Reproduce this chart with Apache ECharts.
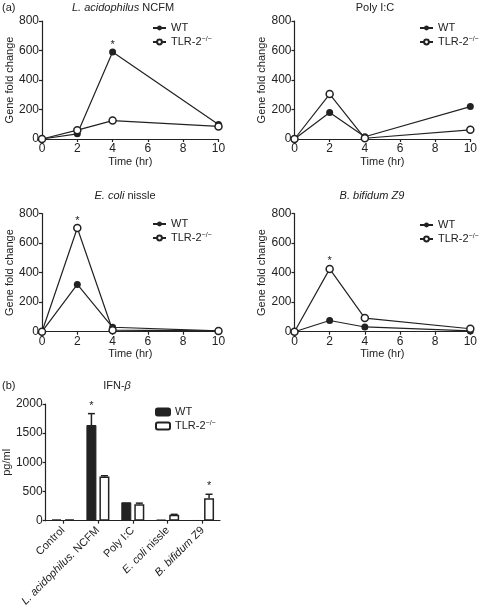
<!DOCTYPE html>
<html>
<head>
<meta charset="utf-8">
<style>html,body{margin:0;padding:0;background:#fff}#c{width:480px;height:609px}</style>
<script src="https://cdn.jsdelivr.net/npm/echarts@6/dist/echarts.min.js"></script>
</head>
<body>
<div id="c"></div>
<script>
// ---- data ----
const timePoints = [0, 2, 4, 10];
const xTicks = [0, 2, 4, 6, 8, 10];
const lineYTicks = [0, 200, 400, 600, 800];

const p1WT  = [0, 35, 590, 98];
const p1TLR = [0, 60, 125, 85];
const p2WT  = [0, 180, 15, 220];
const p2TLR = [0, 305, 5, 62];
const p3WT  = [0, 320, 30, 5];
const p3TLR = [0, 702, 10, 5];
const p4WT  = [0, 76, 32, 5];
const p4TLR = [0, 425, 92, 20];

// significance flags per time point
const p1WTStar  = [0, 0, 1, 0];
const p3TLRStar = [0, 1, 0, 0];
const p4TLRStar = [0, 1, 0, 0];

const panelTitles = ['L. acidophilus NCFM', 'Poly I:C', 'E. coli nissle', 'B. bifidum Z9'];

const barCategories = ['Control', 'L. acidophilus. NCFM', 'Poly I:C', 'E. coli nissle', 'B. bifidum Z9'];
const barWT     = [20, 1640, 315, 15, 5];
const barWTErr  = [20, 1835, 315, 15, 5];
const barTLR    = [20, 755, 283, 100, 385];
const barTLRErr = [20, 770, 300, 108, 452];
const barWTStar  = [0, 1, 0, 0, 0];
const barTLRStar = [0, 0, 0, 0, 1];
const barYTicks = [0, 500, 1000, 1500, 2000];

// ---- styling ----
const FF = 'Liberation Sans, Arial, Helvetica, sans-serif';
const INK = '#222';
const FS = 11;
const TFS = 12;
const richBase = {
  i: {fontStyle: 'italic', fontSize: FS, fontFamily: FF, color: INK},
  n: {fontSize: FS, fontFamily: FF, color: INK},
  s: {fontSize: 7, fontFamily: FF, color: INK, verticalAlign: 'top', lineHeight: 8}
};

const grids = [
  {left: 42, right: 261.5, top: 21, bottom: 470},
  {left: 294.5, right: 8.5, top: 21, bottom: 470},
  {left: 42, right: 261.5, top: 213.5, bottom: 277.3},
  {left: 294.5, right: 8.5, top: 213.5, bottom: 277.3},
  {left: 42, right: 260, top: 404, bottom: 87}
];

const axisLine = {show: true, lineStyle: {color: INK, width: 1.2}};
const axisTick = {show: true, length: 3, lineStyle: {color: INK, width: 1.2}};
const plainNum = v => String(v);

const xAxes = [], yAxes = [];
for (let k = 0; k < 4; k++) {
  xAxes.push({
    type: 'value', gridIndex: k, min: xTicks[0], max: xTicks[xTicks.length - 1], interval: 2,
    axisLine, axisTick, splitLine: {show: false},
    axisLabel: {fontSize: TFS, fontFamily: FF, color: INK, margin: 4, formatter: plainNum},
    name: 'Time (hr)', nameLocation: 'middle', nameGap: 17,
    nameTextStyle: {fontSize: FS, fontFamily: FF, color: INK}
  });
  yAxes.push({
    type: 'value', gridIndex: k, min: lineYTicks[0], max: lineYTicks[lineYTicks.length - 1], interval: 200,
    axisLine, axisTick, splitLine: {show: false},
    axisLabel: {fontSize: TFS, fontFamily: FF, color: INK, margin: 3, formatter: plainNum},
    name: 'Gene fold change', nameLocation: 'middle', nameGap: 27,
    nameTextStyle: {fontSize: FS, fontFamily: FF, color: INK}
  });
}

function catFmt(v) {
  const ital = ['L. acidophilus.', 'E. coli', 'B. bifidum'];
  for (const p of ital) {
    if (v.startsWith(p)) return '{i|' + p + '}{n|' + v.slice(p.length) + '}';
  }
  return '{n|' + v + '}';
}

xAxes.push({
  type: 'category', gridIndex: 4, data: barCategories,
  axisLine, axisTick: {show: true, length: 3, alignWithLabel: true, lineStyle: {color: INK, width: 1.2}},
  axisLabel: {rotate: 45, interval: 0, margin: 8, formatter: catFmt, rich: richBase, fontSize: FS, fontFamily: FF, color: INK}
});
yAxes.push({
  type: 'value', gridIndex: 4, min: barYTicks[0], max: barYTicks[barYTicks.length - 1], interval: 500,
  axisLine, axisTick, splitLine: {show: false},
  axisLabel: {fontSize: TFS, fontFamily: FF, color: INK, margin: 3, formatter: plainNum},
  name: 'pg/ml', nameLocation: 'middle', nameGap: 30,
  nameTextStyle: {fontSize: FS, fontFamily: FF, color: INK}
});

const panels = [
  {wt: p1WT, tlr: p1TLR, wtStar: p1WTStar, tlrStar: null},
  {wt: p2WT, tlr: p2TLR, wtStar: null, tlrStar: null},
  {wt: p3WT, tlr: p3TLR, wtStar: null, tlrStar: p3TLRStar},
  {wt: p4WT, tlr: p4TLR, wtStar: null, tlrStar: p4TLRStar}
];

function starMarks(vals, flags) {
  if (!flags) return undefined;
  const d = [];
  flags.forEach((f, i) => { if (f) d.push({coord: [timePoints[i], vals[i]]}); });
  return {
    symbol: 'circle', symbolSize: 0, silent: true,
    label: {show: true, formatter: '*', position: 'top', distance: 2, fontSize: FS, fontFamily: FF, color: INK},
    data: d
  };
}

const series = [];
panels.forEach((p, k) => {
  series.push({
    name: 'WT|' + k, type: 'line', xAxisIndex: k, yAxisIndex: k,
    data: timePoints.map((t, i) => [t, p.wt[i]]),
    symbol: 'circle', symbolSize: 7,
    itemStyle: {color: INK},
    lineStyle: {color: INK, width: 1.2},
    markPoint: starMarks(p.wt, p.wtStar), z: 3
  });
  series.push({
    name: 'TLR|' + k, type: 'line', xAxisIndex: k, yAxisIndex: k,
    data: timePoints.map((t, i) => [t, p.tlr[i]]),
    symbol: 'circle', symbolSize: 7,
    itemStyle: {color: '#fff', borderColor: INK, borderWidth: 1.5},
    lineStyle: {color: INK, width: 1.2},
    markPoint: starMarks(p.tlr, p.tlrStar), z: 4
  });
});

series.push({
  name: 'WT|bar', type: 'bar', xAxisIndex: 4, yAxisIndex: 4, data: barWT,
  barWidth: 10, barGap: '30%',
  itemStyle: {color: INK, borderColor: INK, borderWidth: 1}
});
series.push({
  name: 'TLR|bar', type: 'bar', xAxisIndex: 4, yAxisIndex: 4, data: barTLR,
  barWidth: 10,
  itemStyle: {color: '#fff', borderColor: INK, borderWidth: 1.5}
});
series.push({
  type: 'custom', xAxisIndex: 4, yAxisIndex: 4, z: 5, silent: true,
  data: barCategories.map((c, i) => [i, barWT[i], barWTErr[i], barTLR[i], barTLRErr[i], barWTStar[i], barTLRStar[i]]),
  encode: {x: 0, y: [1, 2, 3, 4]},
  renderItem: function (params, api) {
    const i = api.value(0);
    const off = 6.5;
    const children = [];
    [[1, 2, -off, 5], [3, 4, off, 6]].forEach(([vi, ei, dx, si]) => {
      const v = api.value(vi), e = api.value(ei);
      const p0 = api.coord([i, v]);
      const p1 = api.coord([i, e]);
      const x = p0[0] + dx;
      if (e > v) {
        children.push({type: 'line', shape: {x1: x, y1: p0[1], x2: x, y2: p1[1]}, style: {stroke: INK, lineWidth: 1.5}});
        children.push({type: 'line', shape: {x1: x - 3.5, y1: p1[1], x2: x + 3.5, y2: p1[1]}, style: {stroke: INK, lineWidth: 1.5}});
      }
      if (api.value(si)) {
        children.push({type: 'text', x: x, y: p1[1] - 8, style: {text: '*', fontSize: FS, fontFamily: FF, fill: INK, align: 'center', verticalAlign: 'middle'}});
      }
    });
    return {type: 'group', children};
  }
});

function legendFmt(name) {
  return name.startsWith('WT') ? '{n|WT}' : '{n|TLR-2}{s|\u2212/\u2212}';
}
function mkLegend(k, left, top, w, h) {
  return {
    orient: 'vertical', left, top, padding: 0, itemGap: 2,
    itemWidth: w, itemHeight: h, selectedMode: false,
    data: ['WT|' + k, 'TLR|' + k],
    formatter: legendFmt,
    textStyle: {fontSize: FS, fontFamily: FF, color: INK, lineHeight: 12, rich: richBase}
  };
}
const legends = [
  mkLegend(0, 152, 22, 13, 6),
  mkLegend(1, 419, 22, 13, 6),
  mkLegend(2, 152, 218, 13, 6),
  mkLegend(3, 419, 219, 13, 6),
  mkLegend('bar', 155, 406, 14, 7)
];

const textStyleG = (t, x, y, align) => ({
  type: 'text', x, y,
  style: {text: t, rich: richBase, fontSize: FS, fontFamily: FF, fill: INK, align: align || 'center', verticalAlign: 'middle'}
});

const graphics = [
  textStyleG('{n|(a)}', 2, 8, 'left'),
  textStyleG('{i|L. acidophilus}{n| NCFM}', 123, 8),
  textStyleG('{n|' + panelTitles[1] + '}', 375, 8),
  textStyleG('{i|E. coli}{n| nissle}', 125, 196),
  textStyleG('{i|' + panelTitles[3] + '}', 372, 196),
  textStyleG('{n|(b)}', 2, 386, 'left'),
  textStyleG('{n|IFN-}{i|\u03b2}', 117, 386)
];

const chart = echarts.init(document.getElementById('c'), null, {renderer: 'canvas'});
chart.setOption({
  animation: false,
  backgroundColor: '#fff',
  grid: grids,
  xAxis: xAxes,
  yAxis: yAxes,
  legend: legends,
  graphic: graphics,
  series
});
</script>
</body>
</html>
